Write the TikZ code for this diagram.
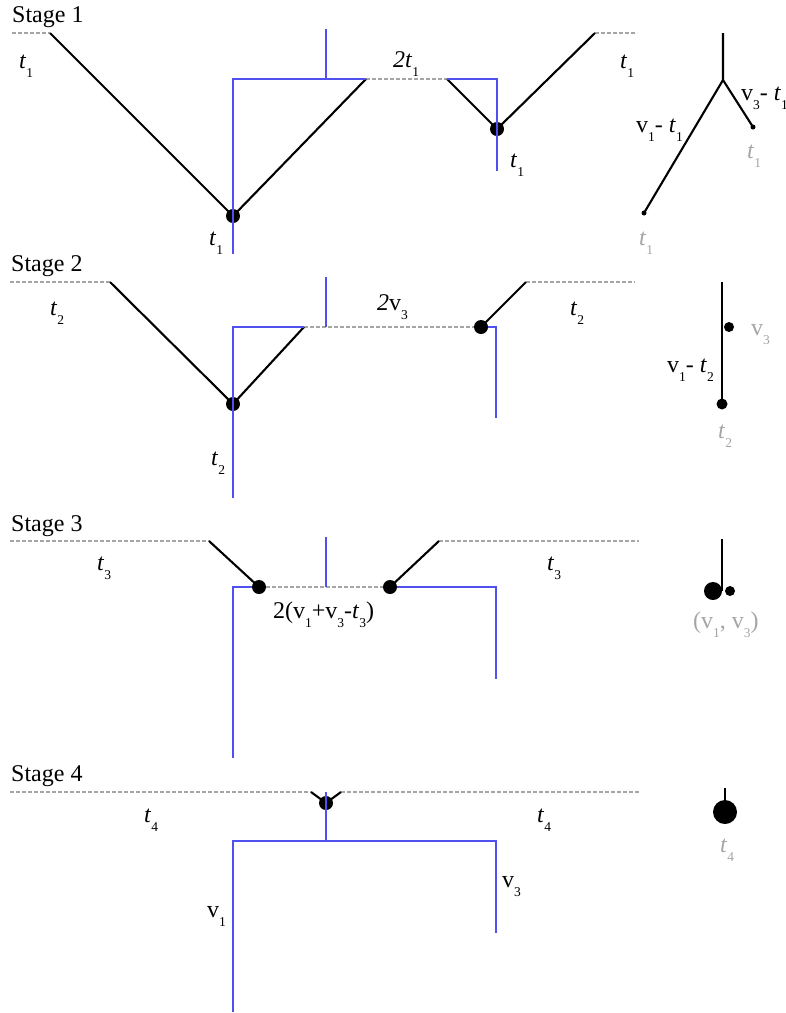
\documentclass[tikz,border=0pt]{standalone}
\usepackage{fontspec}
\setmainfont{Liberation Serif}
\usepackage{tikz}

\definecolor{treeblue}{RGB}{80,80,240}
\definecolor{cutgray}{RGB}{165,165,165}
\newcommand{\lo}[1]{\raisebox{-9pt}{\fontsize{13.5}{14}\selectfont #1}}

\begin{document}
\begin{tikzpicture}[
    x=1pt, y=-1pt,
    branch/.style={
        line width=2.1pt,
        black
    },
    tree/.style={
        line width=1.6pt,
        treeblue
    },
    cut/.style={
        line width=2.3pt,
        cutgray,
        dash pattern=on 4pt off 2pt
    },
    vtx/.style={
        circle,
        fill=black,
        inner sep=0pt,
        minimum size=14pt
    },
    lbl/.style={
        font=\fontsize{24}{26}\selectfont,
        inner sep=0pt,
        anchor=base west
    },
    glbl/.style={
        lbl,
        text=cutgray
    }
]
\useasboundingbox (0,0) rectangle (786,1013);

% Stage 1
\node[lbl] (st1) at (12,22) {Stage 1};
\coordinate (c1a) at (12,33);
\coordinate (c1b) at (50,33);
\coordinate (j1)  at (366,79);
\coordinate (k1)  at (447,79);
\coordinate (c1c) at (595,33);
\coordinate (c1d) at (637,33);
\node[vtx] (d1) at (233,216) {};
\node[vtx] (d2) at (497,129) {};

\draw[cut] (c1a) -- (c1b);
\draw[cut] (j1) -- (k1);
\draw[cut] (c1c) -- (c1d);
\draw[branch] (c1b) -- (d1.center) -- (j1);
\draw[branch] (k1) -- (d2.center) -- (c1c);

\coordinate (b1a) at (233,254);
\coordinate (b1b) at (233,79);
\coordinate (b1s) at (326,29);
\coordinate (b1m) at (326,79);
\coordinate (b1c) at (497,79);
\coordinate (b1d) at (497,171);
\draw[tree] (b1a) -- (b1b) -- (j1);
\draw[tree] (b1s) -- (b1m);
\draw[tree] (k1) -- (b1c) -- (b1d);

\node[lbl] (l1a) at (19,68)   {\textit{t}\lo{1}};
\node[lbl] (l1b) at (209,245) {\textit{t}\lo{1}};
\node[lbl] (l1c) at (393,67)  {\textit{2t}\lo{1}};
\node[lbl] (l1d) at (510,167) {\textit{t}\lo{1}};
\node[lbl] (l1e) at (620,68)  {\textit{t}\lo{1}};

% Stage 1 tree
\coordinate (u1) at (723,33);
\coordinate (y1) at (723,80);
\node[vtx, minimum size=5pt] (e1) at (644,213) {};
\node[vtx, minimum size=5pt] (e2) at (753,127) {};
\draw[branch] (u1) -- (y1) -- (e1.center);
\draw[branch] (y1) -- (e2.center);
\node[lbl]  (m1a) at (636,132) {v\lo{1}- \textit{t}\lo{1}};
\node[lbl]  (m1b) at (741,100) {v\lo{3}- \textit{t}\lo{1}};
\node[glbl] (m1c) at (747,158) {\textit{t}\lo{1}};
\node[glbl] (m1d) at (639,245) {\textit{t}\lo{1}};

% Stage 2
\node[lbl] (st2) at (11,271) {Stage 2};
\coordinate (c2a) at (10,282);
\coordinate (c2b) at (110,282);
\coordinate (j2)  at (304,327);
\coordinate (c2c) at (526,282);
\coordinate (c2d) at (635,282);
\node[vtx] (d3) at (233,404) {};
\node[vtx] (d4) at (481,327) {};

\draw[cut] (c2a) -- (c2b);
\draw[cut] (j2) -- (d4);
\draw[cut] (c2c) -- (c2d);
\draw[branch] (c2b) -- (d3.center) -- (j2);
\draw[branch] (d4.center) -- (c2c);

\coordinate (b2a) at (233,498);
\coordinate (b2b) at (233,327);
\coordinate (b2s) at (326,277);
\coordinate (b2m) at (326,327);
\coordinate (b2c) at (496,327);
\coordinate (b2d) at (496,418);
\draw[tree] (b2a) -- (b2b) -- (j2);
\draw[tree] (b2s) -- (b2m);
\draw[tree] (d4) -- (b2c) -- (b2d);

\node[lbl] (l2a) at (50,315)  {\textit{t}\lo{2}};
\node[lbl] (l2b) at (211,465) {\textit{t}\lo{2}};
\node[lbl] (l2c) at (377,310) {\textit{2}v\lo{3}};
\node[lbl] (l2d) at (570,315) {\textit{t}\lo{2}};

% Stage 2 tree
\coordinate (u2) at (722,282);
\node[vtx, minimum size=11pt] (e3) at (722,404) {};
\node[vtx, minimum size=10pt] (e4) at (729,327) {};
\draw[branch] (u2) -- (e3.center);
\node[lbl]  (m2a) at (667,372) {v\lo{1}- \textit{t}\lo{2}};
\node[glbl] (m2b) at (751,335) {v\lo{3}};
\node[glbl] (m2c) at (718,438) {\textit{t}\lo{2}};

% Stage 3
\node[lbl] (st3) at (11,531) {Stage 3};
\coordinate (c3a) at (10,541);
\coordinate (c3b) at (209,541);
\coordinate (c3c) at (439,541);
\coordinate (c3d) at (639,541);
\node[vtx] (d5) at (259,587) {};
\node[vtx] (d6) at (390,587) {};

\draw[cut] (c3a) -- (c3b);
\draw[cut] (d5) -- (d6);
\draw[cut] (c3c) -- (c3d);
\draw[branch] (c3b) -- (d5.center);
\draw[branch] (d6.center) -- (c3c);

\coordinate (b3a) at (233,758);
\coordinate (b3b) at (233,587);
\coordinate (b3s) at (326,537);
\coordinate (b3m) at (326,587);
\coordinate (b3c) at (496,587);
\coordinate (b3d) at (496,679);
\draw[tree] (b3a) -- (b3b) -- (d5);
\draw[tree] (b3s) -- (b3m);
\draw[tree] (d6) -- (b3c) -- (b3d);

\node[lbl] (l3a) at (97,570)  {\textit{t}\lo{3}};
\node[lbl] (l3b) at (273,618) {2(v\lo{1}+v\lo{3}-\textit{t}\lo{3})};
\node[lbl] (l3c) at (547,570) {\textit{t}\lo{3}};

% Stage 3 tree
\coordinate (u3) at (722,539);
\coordinate (y3) at (722,591);
\node[vtx, minimum size=18pt] (e5) at (713,591) {};
\node[vtx, minimum size=10pt] (e6) at (730,591) {};
\draw[branch] (u3) -- (y3);
\node[glbl] (m3a) at (693,628) {(v\lo{1}, v\lo{3})};

% Stage 4
\node[lbl] (st4) at (11,781) {Stage 4};
\coordinate (c4a) at (10,792);
\coordinate (c4b) at (311,792);
\coordinate (c4c) at (341,792);
\coordinate (c4d) at (640,792);
\node[vtx] (d7) at (326,803) {};

\draw[cut] (c4a) -- (c4b);
\draw[cut] (c4c) -- (c4d);
\draw[branch] (c4b) -- (d7.center) -- (c4c);

\coordinate (b4s) at (326,792);
\coordinate (b4m) at (326,841);
\coordinate (b4l) at (233,841);
\coordinate (b4r) at (496,841);
\coordinate (b4a) at (233,1012);
\coordinate (b4d) at (496,933);
\draw[tree] (b4s) -- (b4m);
\draw[tree] (b4a) -- (b4l) -- (b4r) -- (b4d);

\node[lbl] (l4a) at (144,822) {\textit{t}\lo{4}};
\node[lbl] (l4b) at (537,822) {\textit{t}\lo{4}};
\node[lbl] (l4c) at (207,917) {v\lo{1}};
\node[lbl] (l4d) at (502,887) {v\lo{3}};

% Stage 4 tree
\coordinate (u4) at (725,788);
\node[vtx, minimum size=24pt] (e7) at (725,812) {};
\draw[branch] (u4) -- (e7);
\node[glbl] (m4a) at (720,852) {\textit{t}\lo{4}};

\end{tikzpicture}
\end{document}
